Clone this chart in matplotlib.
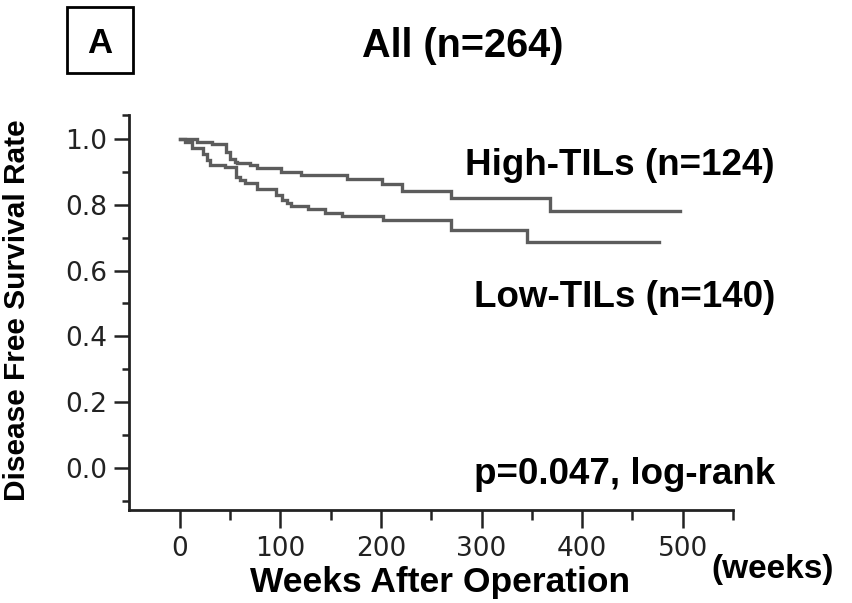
import numpy as np
import matplotlib.pyplot as plt
from matplotlib.ticker import FixedLocator

# Kaplan-Meier step data (weeks, survival)
high_weeks = [0, 17, 32, 46, 50, 55, 57, 70, 77, 101, 121, 166, 201, 221, 270, 368, 497]
high_surv = [1.0, 0.99, 0.985, 0.96, 0.94, 0.93, 0.926, 0.92, 0.911, 0.901, 0.891,
             0.877, 0.863, 0.843, 0.821, 0.781, 0.781]

low_weeks = [0, 5, 12, 23, 27, 30, 45, 56, 60, 65, 77, 96, 102, 107, 111, 127, 144,
             161, 202, 270, 345, 476]
low_surv = [1.0, 0.99, 0.974, 0.955, 0.936, 0.921, 0.914, 0.886, 0.875, 0.866, 0.847,
            0.83, 0.815, 0.805, 0.796, 0.786, 0.776, 0.766, 0.754, 0.723, 0.687, 0.687]

x_ticks = [0, 100, 200, 300, 400, 500]
y_ticks = [0.0, 0.2, 0.4, 0.6, 0.8, 1.0]

W, H = 852, 603


def fx(px):
    return px / W


def fy(py):
    return 1 - py / H


fig = plt.figure(figsize=(W / 100, H / 100), dpi=100)
ax = fig.add_axes([fx(129), fy(510), fx(733) - fx(129), fy(115) - fy(510)])

line_kw = dict(where='post', color='#5c5c5c', lw=2.4, solid_joinstyle='miter')
ax.step(high_weeks, high_surv, **line_kw)
ax.step(low_weeks, low_surv, **line_kw)

ax.set_xlim(-50.5, 550)
ax.set_ylim(-0.128, 1.073)

for s in ['top', 'right']:
    ax.spines[s].set_visible(False)
for s in ['left', 'bottom']:
    ax.spines[s].set_color('#222222')
    ax.spines[s].set_linewidth(2)

ax.xaxis.set_major_locator(FixedLocator(x_ticks))
ax.xaxis.set_minor_locator(FixedLocator([50, 150, 250, 350, 450, 550]))
ax.yaxis.set_major_locator(FixedLocator(y_ticks))
ax.yaxis.set_minor_locator(FixedLocator([-0.1, 0.1, 0.3, 0.5, 0.7, 0.9, 1.073]))
ax.set_xticklabels([str(t) for t in x_ticks], fontsize=19, family='DejaVu Sans')
ax.set_yticklabels([f"{t:.1f}" for t in y_ticks], fontsize=19, family='DejaVu Sans')

ax.tick_params(axis='x', which='major', length=13, width=1.8, color='#222222',
               pad=6, labelcolor='#222222')
ax.tick_params(axis='x', which='minor', length=7, width=1.8, color='#222222')
ax.tick_params(axis='y', which='major', length=11, width=1.8, color='#222222',
               pad=5, labelcolor='#222222')
ax.tick_params(axis='y', which='minor', length=5, width=1.8, color='#222222')

bold = dict(family='Liberation Sans', weight='bold', color='black')

# panel letter in a box
fig.text(fx(100), fy(53), 'A', ha='center', va='baseline', fontsize=25, **bold)
fig.patches.append(plt.Rectangle((fx(67), fy(73)), fx(133) - fx(67), fy(7) - fy(73),
                                 transform=fig.transFigure, fill=False,
                                 edgecolor='black', lw=2))

fig.text(fx(463), fy(57), 'All (n=264)', ha='center', va='baseline', fontsize=28.5, **bold)
fig.text(fx(775), fy(175), 'High-TILs (n=124)', ha='right', va='baseline', fontsize=26.5, **bold)
fig.text(fx(775), fy(307), 'Low-TILs (n=140)', ha='right', va='baseline', fontsize=26.5, **bold)
fig.text(fx(775), fy(484), 'p=0.047, log-rank', ha='right', va='baseline', fontsize=26.5, **bold)

fig.text(fx(17), fy(310), 'Disease Free Survival Rate', ha='center', va='center',
         rotation=90, fontsize=21.5, **bold)
fig.text(fx(440), fy(592), 'Weeks After Operation', ha='center', va='baseline', fontsize=25.5, **bold)
fig.text(fx(773), fy(578), '(weeks)', ha='center', va='baseline', fontsize=24, **bold)

fig.savefig('out.png', dpi=100)
